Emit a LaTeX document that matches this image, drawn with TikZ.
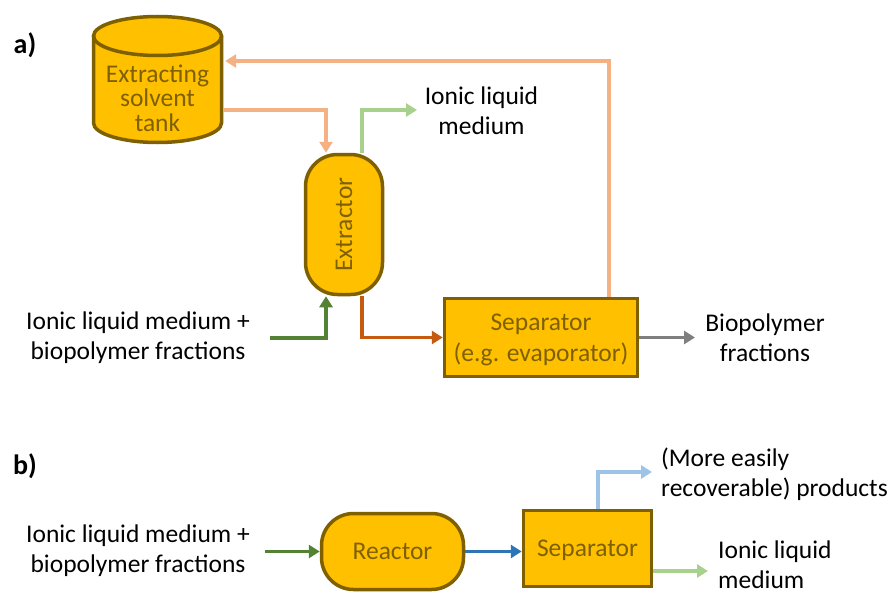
\documentclass[tikz,border=0pt]{standalone}
\usepackage{fontspec}
\setmainfont{Carlito}
\usepackage{graphicx}
\usetikzlibrary{arrows.meta}
\definecolor{fillc}{HTML}{FFC000}
\definecolor{bordc}{HTML}{7F6000}
\definecolor{solv}{HTML}{F4B183}
\definecolor{lgreen}{HTML}{A9D18E}
\definecolor{dgreen}{HTML}{548235}
\definecolor{dorange}{HTML}{C55A11}
\definecolor{grayc}{HTML}{7F7F7F}
\definecolor{bluec}{HTML}{2E75B6}
\definecolor{lblue}{HTML}{9DC3E6}
\begin{document}
\begin{tikzpicture}[x=1pt,y=-1pt,
  box/.style={draw=bordc, fill=fillc, line width=3.5pt, text=bordc, inner sep=0pt,
    align=center, text depth=0pt, font=\fontsize{25.5}{31}\selectfont},
  lbl/.style={inner sep=0pt, align=center, font=\fontsize{25.5}{30}\selectfont, text=black},
  tag/.style={inner sep=0pt, font=\fontsize{28}{30}\selectfont\bfseries, text=black},
  flow/.style={line width=3.5pt, -{Triangle[length=11pt,width=13pt]}}]
\useasboundingbox (0,0) rectangle (890,594);

% ---- part a ----
\node[tag] (la) at (25,45) {a)};

% cylinder tank
\fill[fillc] (93.5,36) -- (93.5,123) arc[start angle=180, end angle=0, x radius=64, y radius=19.5]
  -- (221.5,36) arc[start angle=0, end angle=-180, x radius=64, y radius=19.5] -- cycle;
\draw[bordc, line width=3.5pt] (93.5,36) -- (93.5,123) arc[start angle=180, end angle=0, x radius=64, y radius=19.5]
  -- (221.5,36);
\draw[bordc, line width=3.5pt] (157.5,36) ellipse[x radius=64, y radius=19.5];
\node[inner sep=0pt, align=center, font=\fontsize{25.5}{24.5}\selectfont, text=bordc,
  minimum width=131pt, minimum height=87pt] (tank) at (157.5,98) {Extracting\\solvent\\tank};

\node[box, rounded corners=32pt, minimum width=77pt, minimum height=140pt] (ext) at (344,224.5)
  {\rotatebox{90}{Extractor}};
\node[box, minimum width=193pt, minimum height=78pt] (sepa) at (541,337.5)
  {Separator\\(e.g. evaporator)};

\node[lbl] (ilm) at (481.5,110.5) {Ionic liquid\\medium};
\node[lbl] (bio) at (765,338) {Biopolymer\\fractions};
\node[lbl] (ina) at (138,338) {Ionic liquid medium +\\biopolymer fractions};

\coordinate (ilmtip) at (417,110);
\coordinate (inatail) at (270,338);
\coordinate (biotip) at (695,337.5);

\draw[flow, solv] ([yshift=-12pt]tank.east) -| ([xshift=-18pt]ext.north);
\draw[flow, lgreen] ([xshift=18pt]ext.north) |- (ilmtip);
\draw[flow, dgreen] (inatail) -| ([xshift=-18pt]ext.south);
\draw[flow, dorange] ([xshift=18pt]ext.south) |- (sepa.west);
\draw[flow, grayc] (sepa.east) -- (biotip);
\draw[flow, solv] ([xshift=68pt]sepa.north) |- ([xshift=2pt,yshift=37pt]tank.east);

% ---- part b ----
\node[tag] (lb) at (25,466) {b)};
\node[lbl] (inb) at (138,551) {Ionic liquid medium +\\biopolymer fractions};
\node[box, rounded corners=32pt, minimum width=142pt, minimum height=76pt] (reac) at (392.5,551.5) {Reactor};
\node[box, minimum width=128pt, minimum height=76pt] (sepb) at (587.5,548.5) {Separator};
\node[lbl, anchor=west, align=left] (prod) at (661,474.5) {(More easily\\recoverable) products};
\node[lbl, anchor=south west, align=left] (ilmb) at (718,589) {Ionic liquid\\medium};

\coordinate (inbtail) at (265,551.5);
\coordinate (prodtip) at (652,472);
\coordinate (ilmbtip) at (708,571);

\draw[flow, dgreen] (inbtail) -- (reac.west);
\draw[flow, bluec] (reac.east) -- (reac.east -| sepb.west);
\draw[flow, lblue] ([xshift=10.5pt]sepb.north) |- (prodtip);
\draw[flow, lgreen] ([yshift=-22.5pt]sepb.east) -- (ilmbtip);
\end{tikzpicture}
\end{document}
